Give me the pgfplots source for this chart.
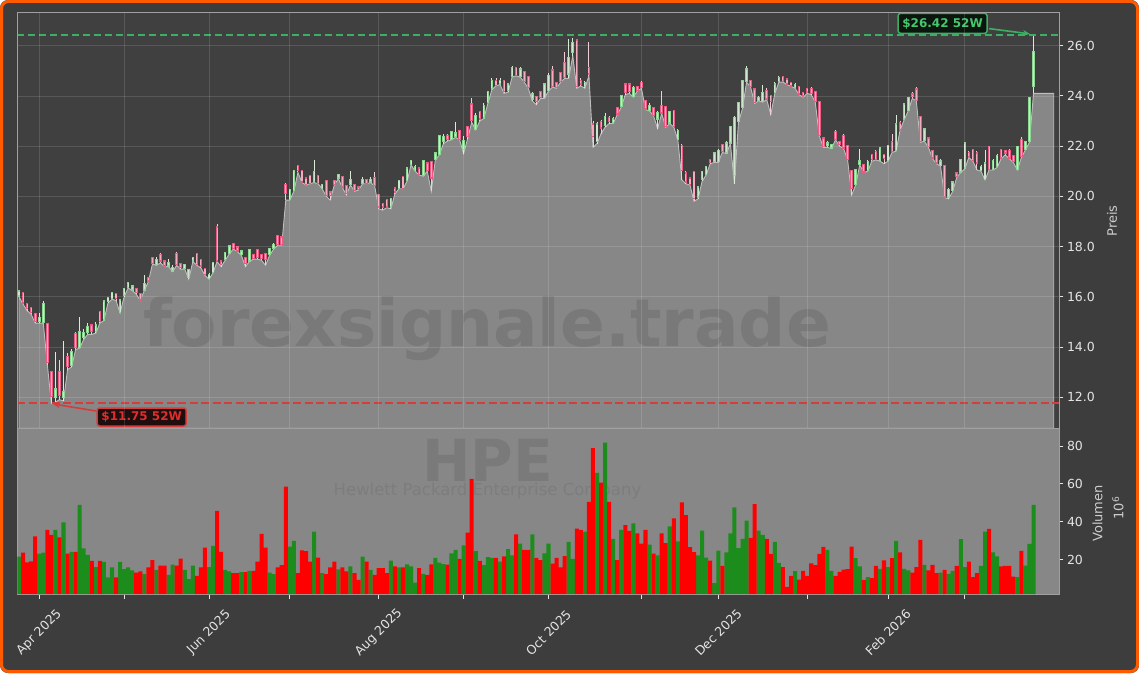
\documentclass[border=0pt]{standalone}
\usepackage{fontspec}
\setmainfont{DejaVu Sans}
\usepackage{pgfplots}
\pgfplotsset{compat=1.18}
\usepackage{pgfplotstable}
\usetikzlibrary{arrows.meta}

\definecolor{bgdark}{RGB}{61,61,61}
\definecolor{axbg}{RGB}{64,64,64}
\definecolor{areagray}{RGB}{135,135,135}
\definecolor{arealine}{RGB}{190,190,190}
\definecolor{framegray}{RGB}{160,160,160}
\definecolor{tickc}{RGB}{228,228,228}
\definecolor{labc}{RGB}{205,205,205}
\definecolor{volred}{RGB}{255,0,0}
\definecolor{volgreen}{RGB}{28,140,28}
\definecolor{upedge}{RGB}{140,215,145}
\definecolor{upfill}{RGB}{205,230,205}
\definecolor{dnedge}{RGB}{235,90,130}
\definecolor{dnfill}{RGB}{245,170,190}
\definecolor{upwick}{RGB}{215,235,215}
\definecolor{dnwick}{RGB}{240,205,215}
\definecolor{wm}{RGB}{121,121,121}
\definecolor{hiline}{RGB}{60,175,100}
\definecolor{hitext}{RGB}{70,200,110}
\definecolor{redline}{RGB}{215,60,60}
\definecolor{lotext}{RGB}{225,45,45}
\definecolor{orangeb}{RGB}{255,90,0}

\newcommand{\ticksize}{\fontsize{12.5}{15}\selectfont}

% daily candles: index, open, high, low, close, volume (mio), up=1/down=0
\pgfplotstableread{
i o h l c v d
0 16.05 16.25 16.00 16.20 21.7 1
1 16.15 16.20 15.70 15.78 23.8 0
2 15.70 15.75 15.45 15.55 18.6 0
3 15.55 15.60 15.30 15.40 19.2 0
4 15.30 15.35 14.95 15.05 32.3 0
5 15.05 15.35 14.95 15.15 23.3 1
6 15.00 15.85 14.95 15.70 23.8 1
7 14.90 14.95 13.30 13.40 35.8 0
8 13.00 13.05 11.75 12.05 33.2 0
9 12.00 13.80 11.80 12.30 35.8 1
10 13.00 13.50 11.90 12.10 31.9 0
11 12.00 14.25 11.85 12.20 39.8 1
12 13.60 13.75 13.10 13.25 23.3 0
13 13.30 13.90 13.20 13.80 24.2 1
14 14.50 14.60 13.90 14.00 24.2 0
15 14.00 15.20 13.95 14.60 48.9 1
16 14.40 14.70 14.30 14.55 26.1 1
17 14.60 14.95 14.50 14.80 22.6 1
18 14.85 14.90 14.50 14.65 19.4 0
19 14.65 15.00 14.55 14.85 16.1 1
20 15.40 15.45 14.95 15.05 19.4 0
21 15.10 15.85 15.05 15.80 18.9 1
22 15.85 16.00 15.75 15.95 10.7 1
23 15.95 16.20 15.90 16.15 16.0 1
24 16.10 16.15 15.85 15.95 10.7 0
25 15.40 15.90 15.35 15.85 18.9 1
26 16.10 16.35 16.00 16.30 15.1 1
27 16.40 16.60 16.35 16.55 16.0 1
28 16.30 16.45 16.25 16.40 14.4 1
29 16.30 16.35 16.10 16.20 13.3 0
30 16.10 16.15 15.85 15.90 13.9 0
31 16.30 16.85 16.25 16.50 12.5 1
32 16.75 16.80 16.60 16.65 16.0 0
33 17.55 17.60 17.30 17.35 19.8 0
34 17.30 17.60 17.25 17.45 14.7 1
35 17.65 17.75 17.35 17.45 17.0 0
36 17.40 17.45 17.20 17.25 17.0 0
37 17.25 17.50 17.20 17.35 12.1 1
38 17.05 17.25 17.00 17.15 17.5 1
39 17.70 17.80 17.25 17.30 17.0 0
40 17.30 17.35 17.10 17.20 20.7 0
41 17.15 17.30 17.10 17.25 14.7 1
42 16.80 17.10 16.70 17.05 9.8 1
43 17.45 17.60 17.40 17.55 17.0 1
44 17.70 17.75 17.25 17.30 11.5 0
45 17.45 17.50 17.15 17.25 16.0 0
46 17.10 17.15 16.85 16.90 26.5 0
47 16.75 16.95 16.70 16.85 16.1 1
48 17.00 17.40 16.95 17.35 27.4 1
49 18.75 18.90 17.40 17.45 45.8 0
50 17.40 17.45 17.20 17.30 24.2 0
51 17.50 17.80 17.45 17.75 14.7 1
52 17.75 18.05 17.70 18.00 13.9 1
53 18.10 18.15 17.90 17.95 13.0 0
54 17.95 18.00 17.80 17.85 13.0 0
55 17.70 17.85 17.65 17.80 13.5 1
56 17.55 17.60 17.20 17.35 13.5 0
57 17.45 17.90 17.40 17.85 14.2 1
58 17.65 17.70 17.50 17.55 14.2 0
59 17.85 17.90 17.50 17.60 19.1 0
60 17.65 17.70 17.45 17.55 33.7 0
61 17.70 17.75 17.25 17.50 26.5 0
62 17.70 17.95 17.65 17.90 13.3 1
63 17.95 18.15 17.90 18.05 12.5 1
64 18.40 18.45 18.05 18.10 16.0 0
65 18.35 18.40 18.05 18.10 17.2 0
66 20.45 20.55 19.85 20.15 58.6 0
67 19.90 20.30 19.85 20.25 27.0 1
68 20.25 21.05 20.20 21.00 30.0 1
69 21.20 21.25 20.95 21.05 13.0 0
70 21.00 21.05 20.55 20.60 25.0 0
71 20.70 20.75 20.45 20.50 24.6 0
72 20.80 20.85 20.50 20.55 19.0 0
73 20.60 21.45 20.55 20.95 34.9 1
74 20.80 20.85 20.50 20.55 21.2 0
75 20.35 20.50 20.30 20.45 13.0 1
76 20.60 20.65 20.00 20.05 12.5 0
77 20.15 20.20 19.85 20.05 16.0 0
78 20.60 20.65 20.45 20.50 19.1 0
79 20.75 20.90 20.70 20.85 15.0 1
80 20.75 20.80 20.35 20.40 16.0 0
81 20.40 20.45 20.05 20.15 13.9 0
82 20.50 21.00 20.45 20.65 16.5 1
83 20.45 20.50 20.20 20.25 13.0 0
84 20.35 20.40 20.25 20.30 9.5 0
85 20.55 20.75 20.50 20.65 21.7 1
86 20.65 20.70 20.50 20.55 19.0 0
87 20.60 20.75 20.55 20.65 14.7 1
88 20.72 20.95 20.40 20.45 12.1 0
89 20.05 20.10 19.50 19.60 15.6 0
90 19.70 19.75 19.45 19.60 15.6 0
91 19.85 19.90 19.55 19.60 13.0 0
92 19.60 19.95 19.50 19.90 19.6 1
93 20.30 20.35 20.10 20.20 16.5 0
94 20.35 20.65 20.30 20.60 16.0 1
95 20.75 20.80 20.30 20.35 16.0 0
96 20.65 21.15 20.60 21.10 17.6 1
97 21.30 21.45 21.25 21.40 16.5 1
98 21.05 21.25 21.00 21.15 8.0 1
99 21.10 21.15 20.85 20.90 15.6 0
100 20.85 21.45 20.80 21.40 12.6 1
101 21.30 21.35 21.00 21.05 12.1 0
102 21.35 21.40 20.20 20.75 17.6 0
103 21.50 21.75 21.45 21.70 21.0 1
104 21.70 22.45 21.65 22.40 18.5 1
105 22.20 22.50 22.10 22.35 17.7 1
106 22.40 22.50 22.20 22.30 17.5 0
107 22.30 22.60 22.25 22.55 23.4 1
108 22.40 22.95 22.35 22.50 25.3 1
109 22.60 22.65 22.25 22.30 20.5 0
110 21.90 22.40 21.70 22.20 27.6 1
111 22.75 22.80 22.30 22.40 34.3 0
112 23.65 23.90 22.95 23.05 62.6 0
113 22.70 23.30 22.65 23.20 24.6 1
114 23.35 23.40 23.00 23.10 19.5 0
115 23.15 23.70 23.10 23.60 17.2 1
116 23.75 24.20 23.70 24.15 21.4 1
117 24.30 24.70 24.25 24.60 21.0 1
118 24.60 24.70 24.40 24.45 21.0 0
119 24.50 24.70 24.45 24.60 19.1 1
120 24.60 24.65 24.10 24.20 21.8 0
121 24.25 24.50 24.15 24.45 25.6 1
122 24.80 25.20 24.75 25.10 22.3 1
123 25.10 25.15 24.80 24.85 33.4 0
124 24.80 25.15 24.75 25.05 28.6 1
125 24.95 25.00 24.55 24.60 25.3 0
126 24.75 24.80 24.30 24.35 25.3 0
127 23.90 24.15 23.80 24.05 33.4 1
128 23.95 24.00 23.65 23.80 21.0 0
129 24.15 24.20 23.90 23.95 19.9 0
130 23.95 24.50 23.90 24.45 23.4 1
131 24.25 24.90 24.20 24.80 28.6 1
132 25.00 25.20 24.35 24.40 18.0 0
133 24.50 24.55 24.30 24.35 21.0 0
134 24.90 24.95 24.55 24.60 16.0 0
135 25.30 25.75 24.70 24.75 21.9 0
136 24.90 26.25 24.70 25.50 29.5 1
137 25.75 26.30 25.60 26.10 20.5 1
138 26.20 26.25 24.30 24.40 36.4 0
139 24.60 24.70 24.40 24.50 35.8 0
140 24.40 24.60 24.30 24.50 34.9 1
141 25.10 26.15 24.80 24.90 50.5 0
142 22.85 23.00 21.95 22.40 78.8 0
143 22.20 22.95 22.10 22.85 65.8 1
144 22.95 23.05 22.50 22.75 60.7 0
145 22.85 23.30 22.75 23.15 81.7 1
146 23.10 23.20 22.90 23.00 50.5 0
147 22.95 23.15 22.90 23.05 31.0 1
148 23.50 23.55 23.25 23.30 19.9 0
149 23.60 24.05 23.55 24.00 35.8 1
150 24.45 24.50 24.05 24.15 38.3 0
151 24.45 24.50 24.10 24.20 35.3 0
152 24.00 24.40 23.95 24.30 39.2 1
153 24.35 24.40 24.20 24.25 33.9 0
154 24.50 24.60 24.30 24.35 28.6 0
155 23.80 23.85 23.45 23.50 35.8 0
156 23.45 23.70 23.40 23.60 28.0 1
157 23.50 23.55 23.20 23.25 23.3 0
158 23.10 23.40 22.70 23.30 22.4 1
159 23.60 24.20 23.30 23.35 34.0 0
160 23.55 23.60 22.75 22.80 28.8 0
161 22.95 23.40 22.90 23.35 37.6 1
162 23.40 23.45 22.75 22.80 41.8 0
163 22.30 22.70 22.25 22.60 29.7 1
164 22.00 22.10 20.65 21.05 50.3 0
165 20.90 21.00 20.50 20.60 43.6 0
166 20.70 20.75 20.45 20.50 26.7 0
167 20.95 21.00 19.80 19.95 24.1 0
168 20.00 20.40 19.90 20.35 22.3 1
169 20.70 21.00 20.60 20.95 35.4 1
170 20.90 21.20 20.85 21.15 21.2 1
171 21.45 21.50 21.30 21.38 19.6 0
172 21.40 21.75 21.35 21.70 7.7 1
173 21.40 21.90 21.35 21.80 24.8 1
174 22.05 22.10 21.75 21.80 16.8 0
175 21.75 22.20 21.70 22.10 23.9 1
176 22.15 22.80 22.10 22.75 34.0 1
177 20.85 23.20 20.50 23.10 47.6 1
178 23.00 23.75 22.95 23.70 26.2 1
179 23.55 24.65 23.50 24.60 31.1 1
180 24.60 25.20 24.55 25.05 40.7 1
181 24.60 24.65 24.35 24.40 31.6 0
182 24.25 24.30 23.70 23.75 49.4 0
183 23.85 24.00 23.80 23.90 35.4 1
184 23.80 24.45 23.75 24.10 33.1 1
185 24.20 24.30 23.85 23.90 31.1 0
186 24.00 24.05 23.25 23.80 23.1 0
187 24.15 24.55 24.10 24.45 29.5 1
188 24.60 24.80 24.55 24.70 18.4 1
189 24.75 24.80 24.55 24.60 16.2 0
190 24.65 24.70 24.45 24.50 5.8 0
191 24.50 24.55 24.38 24.42 11.5 0
192 24.35 24.50 24.30 24.42 14.0 1
193 24.35 24.40 24.05 24.10 9.6 0
194 24.10 24.15 23.95 24.02 14.2 0
195 24.28 24.32 24.10 24.18 11.5 0
196 24.27 24.35 24.05 24.12 18.2 0
197 24.15 24.20 23.75 23.80 17.2 0
198 23.75 23.80 22.40 22.45 23.1 0
199 22.30 22.35 21.95 22.00 26.8 0
200 22.05 22.20 21.95 22.10 25.3 1
201 21.95 22.10 21.90 22.05 14.2 1
202 22.55 22.65 22.25 22.30 11.5 0
203 22.15 22.20 22.00 22.10 13.6 0
204 22.40 22.50 21.90 21.95 14.9 0
205 22.00 22.05 21.45 21.50 15.1 0
206 21.00 21.05 20.05 20.35 27.0 0
207 20.50 21.10 20.45 21.05 20.9 1
208 21.30 21.90 21.25 21.38 16.5 1
209 21.25 21.30 20.95 21.00 9.5 0
210 21.05 21.45 21.00 21.35 10.9 1
211 21.65 21.70 21.40 21.50 10.4 0
212 21.75 21.85 21.45 21.50 16.8 0
213 21.45 21.95 21.40 21.90 15.3 1
214 21.65 21.70 21.30 21.52 19.7 0
215 21.45 22.05 21.40 22.00 16.1 1
216 22.15 22.50 21.75 21.80 20.9 0
217 21.85 23.25 21.80 22.85 30.0 1
218 22.90 23.00 22.65 22.70 23.9 0
219 23.10 23.70 23.05 23.65 15.3 1
220 23.45 23.95 23.40 23.90 14.4 1
221 24.05 24.15 23.90 24.00 13.3 0
222 24.25 24.35 23.80 23.85 16.1 0
223 23.15 23.20 22.15 22.20 30.5 0
224 22.25 22.70 22.20 22.65 17.4 1
225 22.30 22.35 21.95 22.00 14.4 0
226 21.80 21.85 21.50 21.55 17.4 0
227 21.60 21.65 21.30 21.35 13.0 0
228 21.25 21.50 21.20 21.38 13.3 1
229 21.20 21.25 19.95 20.00 14.7 0
230 20.00 20.35 19.90 20.25 12.6 1
231 20.25 20.60 20.20 20.55 14.2 1
232 20.90 20.95 20.75 20.82 16.8 0
233 21.00 21.50 20.95 21.45 30.9 1
234 21.15 22.15 21.10 22.10 16.1 1
235 21.72 21.80 21.55 21.60 19.1 0
236 21.85 21.90 21.40 21.45 10.9 0
237 21.70 21.80 21.05 21.35 13.0 0
238 21.05 21.25 21.00 21.15 16.8 1
239 20.70 21.85 20.65 21.30 34.9 1
240 21.95 22.00 21.05 21.10 36.3 0
241 21.10 21.50 21.05 21.40 23.9 1
242 21.20 21.70 21.15 21.60 21.8 1
243 21.85 21.90 21.50 21.55 16.5 0
244 21.80 21.85 21.65 21.75 16.8 0
245 21.80 21.90 21.50 21.55 16.8 0
246 21.60 21.65 21.35 21.40 11.2 0
247 21.10 22.00 21.05 21.95 10.9 1
248 22.25 22.35 21.55 21.60 24.7 0
249 21.90 22.20 21.85 22.15 17.0 1
250 22.20 23.95 22.15 23.90 28.4 1
251 24.40 26.42 24.10 25.75 48.9 1
256 24.10 24.10 24.10 24.10 0 2
}\hpe

\begin{document}
\begin{tikzpicture}[x=1pt,y=1pt]
\useasboundingbox (0,0) rectangle (1139,673);
\fill[white] (0,0) rectangle (1139,673);
\fill[bgdark, rounded corners=8pt] (0,0) rectangle (1139,673);
\draw[orangeb, line width=3pt, rounded corners=7pt] (1.5,1.5) rectangle (1137.5,671.5);

% ---- price panel
\begin{axis}[
    at={(17.3pt,244.7pt)}, anchor=south west,
    scale only axis, width=1041.7pt, height=416pt,
    xmin=-0.43, xmax=257.3, ymin=10.76, ymax=27.33,
    axis background/.style={fill=axbg},
    axis line style={draw=framegray, line width=0.9pt},
    xtick={5,26,47,67,89,110,131,154,173,195,215,234},
    xticklabels={}, xtick style={draw=none},
    ytick={12,14,...,26}, ytick pos=right, yticklabel pos=right,
    tick align=outside, major tick length=4.5pt,
    ytick style={draw=tickc, line width=0.9pt},
    /pgf/number format/assume math mode=true,
    yticklabel={\pgfmathprintnumber[fixed,fixed zerofill,precision=1]{\tick}},
    yticklabel style={text=tickc, font=\ticksize},
    grid=major, grid style={draw=white, opacity=0.13, line width=0.8pt},
    axis on top,
]
\addplot[fill=areagray, draw=arealine, line width=0.9pt] table[x=i, y=l] {\hpe} \closedcycle;
\node[text=wm, font=\bfseries\fontsize{66}{70}\selectfont] at (axis cs:115.8,14.75) {forexsignale.trade};
% wicks
\addplot[upwick, line width=0.9pt, no marks, restrict expr to domain={\thisrow{d}}{0.5:1.5},
    quiver={u=0, v=\thisrow{h}-\thisrow{l}}] table[x=i, y=l] {\hpe};
\addplot[dnwick, line width=0.9pt, no marks, restrict expr to domain={\thisrow{d}}{-0.5:0.5},
    quiver={u=0, v=\thisrow{h}-\thisrow{l}}] table[x=i, y=l] {\hpe};
% bodies
\addplot[upedge, line width=2.6pt, line cap=rect, no marks, restrict expr to domain={\thisrow{d}}{0.5:1.5},
    quiver={u=0, v=\thisrow{c}-\thisrow{o}}] table[x=i, y=o] {\hpe};
\addplot[upfill, line width=1.1pt, no marks, restrict expr to domain={\thisrow{d}}{0.5:1.5},
    quiver={u=0, v=\thisrow{c}-\thisrow{o}}] table[x=i, y=o] {\hpe};
\addplot[dnedge, line width=2.6pt, line cap=rect, no marks, restrict expr to domain={\thisrow{d}}{-0.5:0.5},
    quiver={u=0, v=\thisrow{c}-\thisrow{o}}] table[x=i, y=o] {\hpe};
\addplot[dnfill, line width=1.1pt, no marks, restrict expr to domain={\thisrow{d}}{-0.5:0.5},
    quiver={u=0, v=\thisrow{c}-\thisrow{o}}] table[x=i, y=o] {\hpe};
% 52 week high / low lines and labels
\draw[hiline, line width=1.7pt, dash pattern=on 7pt off 4pt] (axis cs:-0.43,26.42) -- (axis cs:257.3,26.42);
\draw[redline, line width=2pt, dash pattern=on 8pt off 3.5pt] (axis cs:-0.43,11.75) -- (axis cs:257.3,11.75);
\node[draw=hiline, line width=1.5pt, fill={rgb,255:red,12;green,22;blue,15}, rounded corners=2.5pt,
    text=hitext, font=\bfseries\fontsize{12}{14}\selectfont, minimum width=89pt, minimum height=20pt,
    inner sep=0pt] at (axis cs:228.5,26.89) {\$26.42 52W};
\draw[hiline, line width=1.6pt, -{Stealth[length=7pt,width=6pt]}] (axis cs:240,26.68) -- (axis cs:250.1,26.47);
\node[draw=redline, line width=1.5pt, fill={rgb,255:red,30;green,14;blue,14}, rounded corners=2.5pt,
    text=lotext, font=\bfseries\fontsize{12}{14}\selectfont, minimum width=89pt, minimum height=18pt,
    inner sep=0pt] at (axis cs:30.35,11.21) {\$11.75 52W};
\draw[redline, line width=1.6pt, -{Stealth[length=7pt,width=6pt]}] (axis cs:19,11.45) -- (axis cs:8.4,11.73);
\end{axis}

% ---- volume panel
\begin{axis}[
    at={(17.3pt,79pt)}, anchor=south west,
    scale only axis, width=1041.7pt, height=165.7pt,
    xmin=-0.43, xmax=257.3, ymin=2, ymax=89.3,
    axis background/.style={fill=areagray},
    axis line style={draw=framegray, line width=0.9pt},
    xtick={5,26,47,67,89,110,131,154,173,195,215,234},
    xticklabels={Apr 2025,,Jun 2025,,Aug 2025,,Oct 2025,,Dec 2025,,Feb 2026,},
    xtick pos=bottom, ytick pos=right, yticklabel pos=right,
    ytick={20,40,60,80},
    tick align=outside, major tick length=4.5pt,
    tick style={draw=tickc, line width=0.9pt},
    /pgf/number format/assume math mode=true,
    yticklabel style={text=tickc, font=\ticksize},
    xticklabel style={text=tickc, font=\ticksize, yshift=-34pt, rotate=45, anchor=center},
]
\node[text={rgb,255:red,122;green,122;blue,122}, font=\bfseries\fontsize{58}{62}\selectfont] at (axis cs:115.9,72.6) {HPE};
\node[text={rgb,255:red,125;green,125;blue,125}, font=\fontsize{16.5}{19}\selectfont] at (axis cs:115.9,56.3) {Hewlett Packard Enterprise Company};
\addplot[ybar, bar width=1, fill=volgreen, draw=none, restrict expr to domain={\thisrow{d}}{0.5:1.5}]
    table[x=i, y=v] {\hpe};
\addplot[ybar, bar width=1, fill=volred, draw=none, restrict expr to domain={\thisrow{d}}{-0.5:0.5}]
    table[x=i, y=v] {\hpe};
\end{axis}

\node[rotate=90, text=labc, font=\fontsize{13}{15}\selectfont] at (1112,452) {Preis};
\node[rotate=90, text=labc, font=\fontsize{13}{15}\selectfont] at (1097.5,159.5) {Volumen};
\node[rotate=90, text=labc, font=\fontsize{13}{15}\selectfont] at (1118,165) {10\textsuperscript{6}};
\end{tikzpicture}
\end{document}
